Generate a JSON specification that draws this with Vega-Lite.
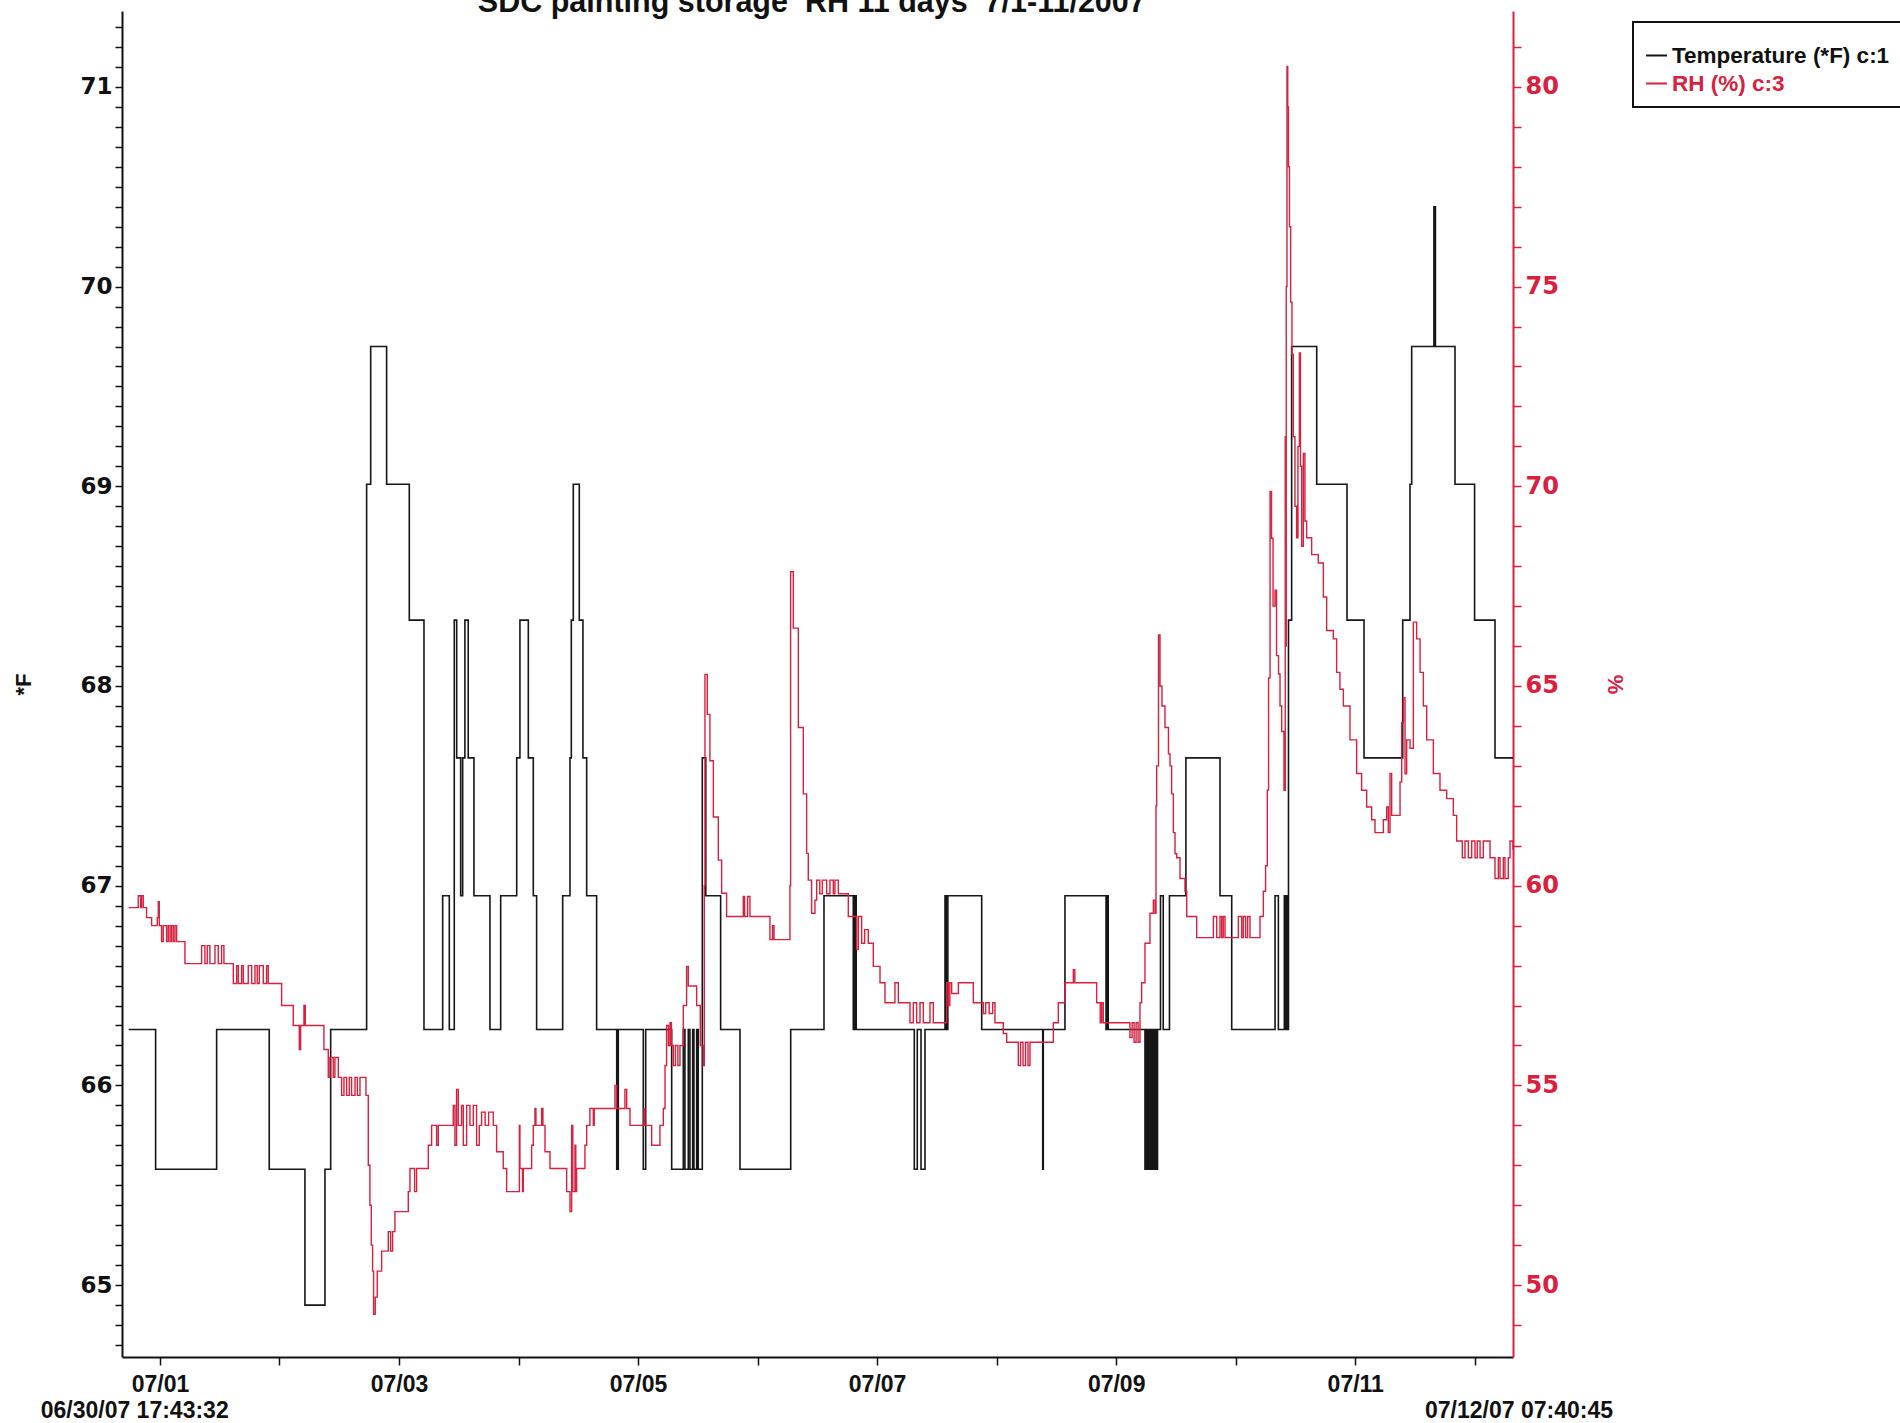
{
  "$schema": "https://vega.github.io/schema/vega-lite/v6.json",
  "autosize": {"type": "none"},
  "width": 1391,
  "height": 1346,
  "padding": {"left": 122, "top": 11, "right": 387, "bottom": 66},
  "background": "white",
  "config": {
    "view": {"stroke": null},
    "font": "Liberation Sans"
  },
  "datasets": {
    "temp": [
      {"t": "2007-06-30T17:43:32", "v": 66.28},
      {"t": "2007-06-30T23:08", "v": 65.58},
      {"t": "2007-07-01T11:23", "v": 66.28},
      {"t": "2007-07-01T21:57", "v": 65.58},
      {"t": "2007-07-02T05:07", "v": 64.90},
      {"t": "2007-07-02T09:08", "v": 65.58},
      {"t": "2007-07-02T10:17", "v": 66.28},
      {"t": "2007-07-02T17:30", "v": 69.01},
      {"t": "2007-07-02T18:19", "v": 69.70},
      {"t": "2007-07-02T21:31", "v": 69.01},
      {"t": "2007-07-03T02:04", "v": 68.33},
      {"t": "2007-07-03T05:01", "v": 66.28},
      {"t": "2007-07-03T08:46", "v": 66.95},
      {"t": "2007-07-03T10:06", "v": 66.28},
      {"t": "2007-07-03T11:06", "v": 68.33},
      {"t": "2007-07-03T11:35", "v": 67.64},
      {"t": "2007-07-03T12:23", "v": 66.95},
      {"t": "2007-07-03T12:47", "v": 67.64},
      {"t": "2007-07-03T13:14", "v": 68.33},
      {"t": "2007-07-03T13:54", "v": 67.64},
      {"t": "2007-07-03T15:03", "v": 66.95},
      {"t": "2007-07-03T18:16", "v": 66.28},
      {"t": "2007-07-03T20:25", "v": 66.95},
      {"t": "2007-07-03T23:38", "v": 67.64},
      {"t": "2007-07-04T00:17", "v": 68.33},
      {"t": "2007-07-04T01:58", "v": 67.64},
      {"t": "2007-07-04T02:58", "v": 66.95},
      {"t": "2007-07-04T03:38", "v": 66.28},
      {"t": "2007-07-04T08:52", "v": 66.95},
      {"t": "2007-07-04T10:20", "v": 67.64},
      {"t": "2007-07-04T10:36", "v": 68.33},
      {"t": "2007-07-04T11:00", "v": 69.01},
      {"t": "2007-07-04T12:12", "v": 68.33},
      {"t": "2007-07-04T12:56", "v": 67.64},
      {"t": "2007-07-04T13:41", "v": 66.95},
      {"t": "2007-07-04T15:41", "v": 66.28},
      {"t": "2007-07-04T19:43", "v": 65.58},
      {"t": "2007-07-04T20:02", "v": 66.28},
      {"t": "2007-07-05T01:03", "v": 65.58},
      {"t": "2007-07-05T01:32", "v": 66.28},
      {"t": "2007-07-05T06:45", "v": 65.58},
      {"t": "2007-07-05T09:05", "v": 66.28},
      {"t": "2007-07-05T09:25", "v": 65.58},
      {"t": "2007-07-05T10:05", "v": 66.28},
      {"t": "2007-07-05T10:25", "v": 65.58},
      {"t": "2007-07-05T10:58", "v": 66.28},
      {"t": "2007-07-05T11:13", "v": 65.58},
      {"t": "2007-07-05T11:46", "v": 66.28},
      {"t": "2007-07-05T12:05", "v": 65.58},
      {"t": "2007-07-05T12:54", "v": 67.64},
      {"t": "2007-07-05T13:36", "v": 66.95},
      {"t": "2007-07-05T16:35", "v": 66.28},
      {"t": "2007-07-05T20:28", "v": 65.58},
      {"t": "2007-07-06T06:39", "v": 66.28},
      {"t": "2007-07-06T13:20", "v": 66.95},
      {"t": "2007-07-06T19:13", "v": 66.28},
      {"t": "2007-07-06T19:30", "v": 66.95},
      {"t": "2007-07-06T19:48", "v": 66.28},
      {"t": "2007-07-07T07:28", "v": 65.58},
      {"t": "2007-07-07T08:04", "v": 66.28},
      {"t": "2007-07-07T08:49", "v": 65.58},
      {"t": "2007-07-07T09:37", "v": 66.28},
      {"t": "2007-07-07T13:38", "v": 66.95},
      {"t": "2007-07-07T13:54", "v": 66.28},
      {"t": "2007-07-07T14:12", "v": 66.95},
      {"t": "2007-07-07T21:00", "v": 66.28},
      {"t": "2007-07-08T09:15", "v": 65.58},
      {"t": "2007-07-08T09:22", "v": 66.28},
      {"t": "2007-07-08T13:43", "v": 66.95},
      {"t": "2007-07-08T21:58", "v": 66.28},
      {"t": "2007-07-08T22:12", "v": 66.95},
      {"t": "2007-07-08T22:24", "v": 66.28},
      {"t": "2007-07-09T05:47", "v": 65.58},
      {"t": "2007-07-09T05:57", "v": 66.28},
      {"t": "2007-07-09T06:06", "v": 65.58},
      {"t": "2007-07-09T06:15", "v": 66.28},
      {"t": "2007-07-09T06:24", "v": 65.58},
      {"t": "2007-07-09T06:33", "v": 66.28},
      {"t": "2007-07-09T06:42", "v": 65.58},
      {"t": "2007-07-09T06:51", "v": 66.28},
      {"t": "2007-07-09T07:00", "v": 65.58},
      {"t": "2007-07-09T07:09", "v": 66.28},
      {"t": "2007-07-09T07:18", "v": 65.58},
      {"t": "2007-07-09T07:27", "v": 66.28},
      {"t": "2007-07-09T07:36", "v": 65.58},
      {"t": "2007-07-09T07:45", "v": 66.28},
      {"t": "2007-07-09T07:54", "v": 65.58},
      {"t": "2007-07-09T08:03", "v": 66.28},
      {"t": "2007-07-09T08:09", "v": 65.58},
      {"t": "2007-07-09T08:18", "v": 66.28},
      {"t": "2007-07-09T08:54", "v": 66.95},
      {"t": "2007-07-09T09:27", "v": 66.28},
      {"t": "2007-07-09T10:42", "v": 66.95},
      {"t": "2007-07-09T14:00", "v": 67.64},
      {"t": "2007-07-09T20:51", "v": 66.95},
      {"t": "2007-07-09T23:12", "v": 66.28},
      {"t": "2007-07-10T07:54", "v": 66.95},
      {"t": "2007-07-10T08:34", "v": 66.28},
      {"t": "2007-07-10T09:46", "v": 66.95},
      {"t": "2007-07-10T10:00", "v": 66.28},
      {"t": "2007-07-10T10:12", "v": 66.95},
      {"t": "2007-07-10T10:22", "v": 66.28},
      {"t": "2007-07-10T10:36", "v": 68.33},
      {"t": "2007-07-10T11:14", "v": 69.70},
      {"t": "2007-07-10T16:16", "v": 69.01},
      {"t": "2007-07-10T22:21", "v": 68.33},
      {"t": "2007-07-11T01:46", "v": 67.64},
      {"t": "2007-07-11T09:32", "v": 68.33},
      {"t": "2007-07-11T11:00", "v": 69.01},
      {"t": "2007-07-11T11:20", "v": 69.70},
      {"t": "2007-07-11T15:48", "v": 70.40},
      {"t": "2007-07-11T16:06", "v": 69.70},
      {"t": "2007-07-11T20:02", "v": 69.01},
      {"t": "2007-07-11T23:58", "v": 68.33},
      {"t": "2007-07-12T04:04", "v": 67.64},
      {"t": "2007-07-12T07:40:45", "v": 67.64}
    ],
    "rh": [
      {"t": "2007-06-30T17:43:32", "v": 59.45},
      {"t": "2007-06-30T19:39", "v": 59.75},
      {"t": "2007-06-30T20:07", "v": 59.45},
      {"t": "2007-06-30T20:19", "v": 59.75},
      {"t": "2007-06-30T20:39", "v": 59.45},
      {"t": "2007-06-30T21:19", "v": 59.2},
      {"t": "2007-06-30T22:20", "v": 59.0},
      {"t": "2007-06-30T23:28", "v": 59.2},
      {"t": "2007-06-30T23:40", "v": 59.6},
      {"t": "2007-06-30T23:52", "v": 59.0},
      {"t": "2007-07-01T00:20", "v": 58.6},
      {"t": "2007-07-01T00:40", "v": 59.0},
      {"t": "2007-07-01T01:20", "v": 58.6},
      {"t": "2007-07-01T01:40", "v": 59.0},
      {"t": "2007-07-01T02:01", "v": 58.6},
      {"t": "2007-07-01T02:20", "v": 59.0},
      {"t": "2007-07-01T02:41", "v": 58.6},
      {"t": "2007-07-01T03:01", "v": 59.0},
      {"t": "2007-07-01T03:21", "v": 58.6},
      {"t": "2007-07-01T05:01", "v": 58.05},
      {"t": "2007-07-01T08:22", "v": 58.5},
      {"t": "2007-07-01T09:02", "v": 58.05},
      {"t": "2007-07-01T09:30", "v": 58.5},
      {"t": "2007-07-01T10:02", "v": 58.05},
      {"t": "2007-07-01T11:03", "v": 58.5},
      {"t": "2007-07-01T11:43", "v": 58.05},
      {"t": "2007-07-01T12:23", "v": 58.5},
      {"t": "2007-07-01T12:51", "v": 58.05},
      {"t": "2007-07-01T14:44", "v": 57.55},
      {"t": "2007-07-01T15:24", "v": 58.0},
      {"t": "2007-07-01T15:44", "v": 57.55},
      {"t": "2007-07-01T16:24", "v": 58.0},
      {"t": "2007-07-01T16:44", "v": 57.55},
      {"t": "2007-07-01T17:44", "v": 58.0},
      {"t": "2007-07-01T18:25", "v": 57.55},
      {"t": "2007-07-01T19:05", "v": 58.0},
      {"t": "2007-07-01T19:32", "v": 57.55},
      {"t": "2007-07-01T19:57", "v": 58.0},
      {"t": "2007-07-01T20:45", "v": 57.55},
      {"t": "2007-07-01T21:25", "v": 58.0},
      {"t": "2007-07-01T21:45", "v": 57.55},
      {"t": "2007-07-02T00:26", "v": 57.0},
      {"t": "2007-07-02T02:46", "v": 56.5},
      {"t": "2007-07-02T03:59", "v": 55.9},
      {"t": "2007-07-02T04:15", "v": 56.5},
      {"t": "2007-07-02T04:55", "v": 57.0},
      {"t": "2007-07-02T05:11", "v": 56.5},
      {"t": "2007-07-02T08:56", "v": 55.9},
      {"t": "2007-07-02T09:48", "v": 55.2},
      {"t": "2007-07-02T10:08", "v": 55.7},
      {"t": "2007-07-02T10:48", "v": 55.2},
      {"t": "2007-07-02T11:08", "v": 55.7},
      {"t": "2007-07-02T11:49", "v": 55.2},
      {"t": "2007-07-02T12:29", "v": 54.75},
      {"t": "2007-07-02T12:57", "v": 55.2},
      {"t": "2007-07-02T13:29", "v": 54.75},
      {"t": "2007-07-02T14:01", "v": 55.2},
      {"t": "2007-07-02T14:29", "v": 54.75},
      {"t": "2007-07-02T15:10", "v": 55.2},
      {"t": "2007-07-02T15:38", "v": 54.75},
      {"t": "2007-07-02T16:10", "v": 55.2},
      {"t": "2007-07-02T17:22", "v": 54.75},
      {"t": "2007-07-02T17:50", "v": 53.0},
      {"t": "2007-07-02T18:10", "v": 52.0},
      {"t": "2007-07-02T18:26", "v": 51.0},
      {"t": "2007-07-02T18:42", "v": 50.35},
      {"t": "2007-07-02T18:54", "v": 49.27},
      {"t": "2007-07-02T19:14", "v": 49.7},
      {"t": "2007-07-02T19:38", "v": 50.35},
      {"t": "2007-07-02T20:31", "v": 50.85},
      {"t": "2007-07-02T21:51", "v": 51.34},
      {"t": "2007-07-02T22:19", "v": 50.85},
      {"t": "2007-07-02T22:43", "v": 51.34},
      {"t": "2007-07-02T23:11", "v": 51.84},
      {"t": "2007-07-03T01:52", "v": 52.34},
      {"t": "2007-07-03T02:12", "v": 52.92},
      {"t": "2007-07-03T03:08", "v": 52.34},
      {"t": "2007-07-03T03:32", "v": 52.92},
      {"t": "2007-07-03T05:53", "v": 53.5},
      {"t": "2007-07-03T06:33", "v": 54.0},
      {"t": "2007-07-03T07:33", "v": 53.5},
      {"t": "2007-07-03T07:53", "v": 54.0},
      {"t": "2007-07-03T10:54", "v": 54.5},
      {"t": "2007-07-03T11:14", "v": 53.5},
      {"t": "2007-07-03T11:34", "v": 54.9},
      {"t": "2007-07-03T11:54", "v": 54.0},
      {"t": "2007-07-03T12:34", "v": 54.5},
      {"t": "2007-07-03T12:55", "v": 53.5},
      {"t": "2007-07-03T13:35", "v": 54.5},
      {"t": "2007-07-03T14:15", "v": 54.0},
      {"t": "2007-07-03T14:55", "v": 54.5},
      {"t": "2007-07-03T15:35", "v": 53.5},
      {"t": "2007-07-03T16:07", "v": 54.0},
      {"t": "2007-07-03T16:35", "v": 54.33},
      {"t": "2007-07-03T17:18", "v": 54.0},
      {"t": "2007-07-03T18:00", "v": 54.33},
      {"t": "2007-07-03T18:56", "v": 54.0},
      {"t": "2007-07-03T19:36", "v": 53.34},
      {"t": "2007-07-03T20:56", "v": 52.92},
      {"t": "2007-07-03T21:37", "v": 52.34},
      {"t": "2007-07-04T00:10", "v": 54.0},
      {"t": "2007-07-04T00:17", "v": 52.92},
      {"t": "2007-07-04T00:48", "v": 52.34},
      {"t": "2007-07-04T00:58", "v": 52.92},
      {"t": "2007-07-04T02:38", "v": 53.5},
      {"t": "2007-07-04T02:58", "v": 54.0},
      {"t": "2007-07-04T03:18", "v": 54.42},
      {"t": "2007-07-04T03:30", "v": 54.0},
      {"t": "2007-07-04T04:38", "v": 54.42},
      {"t": "2007-07-04T04:54", "v": 54.0},
      {"t": "2007-07-04T05:19", "v": 53.34},
      {"t": "2007-07-04T06:19", "v": 52.92},
      {"t": "2007-07-04T09:40", "v": 52.34},
      {"t": "2007-07-04T10:20", "v": 51.84},
      {"t": "2007-07-04T10:40", "v": 54.0},
      {"t": "2007-07-04T10:54", "v": 52.34},
      {"t": "2007-07-04T11:20", "v": 53.5},
      {"t": "2007-07-04T11:30", "v": 52.34},
      {"t": "2007-07-04T11:40", "v": 52.92},
      {"t": "2007-07-04T13:20", "v": 53.5},
      {"t": "2007-07-04T13:41", "v": 54.0},
      {"t": "2007-07-04T14:20", "v": 54.42},
      {"t": "2007-07-04T15:01", "v": 54.0},
      {"t": "2007-07-04T15:12", "v": 54.42},
      {"t": "2007-07-04T19:22", "v": 55.0},
      {"t": "2007-07-04T19:42", "v": 54.42},
      {"t": "2007-07-04T21:22", "v": 54.9},
      {"t": "2007-07-04T21:43", "v": 54.42},
      {"t": "2007-07-04T22:23", "v": 54.0},
      {"t": "2007-07-05T01:11", "v": 54.42},
      {"t": "2007-07-05T01:23", "v": 54.0},
      {"t": "2007-07-05T02:44", "v": 53.5},
      {"t": "2007-07-05T04:24", "v": 54.0},
      {"t": "2007-07-05T05:04", "v": 54.42},
      {"t": "2007-07-05T05:25", "v": 55.5},
      {"t": "2007-07-05T05:44", "v": 56.5},
      {"t": "2007-07-05T06:06", "v": 56.0},
      {"t": "2007-07-05T06:25", "v": 56.57},
      {"t": "2007-07-05T06:42", "v": 56.0},
      {"t": "2007-07-05T07:05", "v": 55.5},
      {"t": "2007-07-05T07:30", "v": 56.0},
      {"t": "2007-07-05T08:00", "v": 55.5},
      {"t": "2007-07-05T08:25", "v": 56.0},
      {"t": "2007-07-05T09:05", "v": 57.0},
      {"t": "2007-07-05T09:45", "v": 57.98},
      {"t": "2007-07-05T10:05", "v": 57.49},
      {"t": "2007-07-05T11:46", "v": 57.0},
      {"t": "2007-07-05T12:30", "v": 56.0},
      {"t": "2007-07-05T13:06", "v": 55.5},
      {"t": "2007-07-05T13:18", "v": 60.0},
      {"t": "2007-07-05T13:26", "v": 65.29},
      {"t": "2007-07-05T13:54", "v": 64.29},
      {"t": "2007-07-05T14:26", "v": 63.13},
      {"t": "2007-07-05T15:07", "v": 61.72},
      {"t": "2007-07-05T16:07", "v": 60.64},
      {"t": "2007-07-05T16:47", "v": 59.81},
      {"t": "2007-07-05T17:47", "v": 59.23},
      {"t": "2007-07-05T21:08", "v": 59.73},
      {"t": "2007-07-05T21:24", "v": 59.23},
      {"t": "2007-07-05T22:00", "v": 59.73},
      {"t": "2007-07-05T22:28", "v": 59.23},
      {"t": "2007-07-06T02:29", "v": 58.65},
      {"t": "2007-07-06T03:00", "v": 59.0},
      {"t": "2007-07-06T03:18", "v": 58.65},
      {"t": "2007-07-06T06:30", "v": 60.0},
      {"t": "2007-07-06T06:38", "v": 67.86},
      {"t": "2007-07-06T07:10", "v": 66.45},
      {"t": "2007-07-06T08:11", "v": 63.96},
      {"t": "2007-07-06T09:11", "v": 62.3},
      {"t": "2007-07-06T09:51", "v": 60.81},
      {"t": "2007-07-06T10:11", "v": 60.14},
      {"t": "2007-07-06T10:51", "v": 59.31},
      {"t": "2007-07-06T11:31", "v": 59.64},
      {"t": "2007-07-06T11:52", "v": 60.14},
      {"t": "2007-07-06T12:30", "v": 59.8},
      {"t": "2007-07-06T13:00", "v": 60.14},
      {"t": "2007-07-06T13:52", "v": 59.8},
      {"t": "2007-07-06T14:32", "v": 60.14},
      {"t": "2007-07-06T15:12", "v": 59.8},
      {"t": "2007-07-06T15:32", "v": 60.14},
      {"t": "2007-07-06T16:13", "v": 59.8},
      {"t": "2007-07-06T18:13", "v": 59.23},
      {"t": "2007-07-06T19:53", "v": 58.4},
      {"t": "2007-07-06T20:14", "v": 59.23},
      {"t": "2007-07-06T20:54", "v": 58.56},
      {"t": "2007-07-06T21:30", "v": 58.9},
      {"t": "2007-07-06T22:14", "v": 58.56},
      {"t": "2007-07-06T23:14", "v": 57.98},
      {"t": "2007-07-07T00:35", "v": 57.57},
      {"t": "2007-07-07T01:35", "v": 57.07},
      {"t": "2007-07-07T03:35", "v": 57.57},
      {"t": "2007-07-07T04:16", "v": 57.07},
      {"t": "2007-07-07T06:36", "v": 56.57},
      {"t": "2007-07-07T07:16", "v": 57.07},
      {"t": "2007-07-07T07:56", "v": 56.57},
      {"t": "2007-07-07T08:37", "v": 57.07},
      {"t": "2007-07-07T09:17", "v": 56.57},
      {"t": "2007-07-07T10:37", "v": 57.07},
      {"t": "2007-07-07T11:17", "v": 56.57},
      {"t": "2007-07-07T13:58", "v": 57.57},
      {"t": "2007-07-07T14:18", "v": 57.0},
      {"t": "2007-07-07T14:36", "v": 57.57},
      {"t": "2007-07-07T14:58", "v": 57.3},
      {"t": "2007-07-07T16:19", "v": 57.57},
      {"t": "2007-07-07T19:19", "v": 57.07},
      {"t": "2007-07-07T21:20", "v": 56.8},
      {"t": "2007-07-07T21:48", "v": 57.07},
      {"t": "2007-07-07T22:30", "v": 56.8},
      {"t": "2007-07-07T23:12", "v": 57.07},
      {"t": "2007-07-07T23:40", "v": 56.57},
      {"t": "2007-07-08T01:20", "v": 56.3},
      {"t": "2007-07-08T02:01", "v": 56.08},
      {"t": "2007-07-08T04:21", "v": 55.5},
      {"t": "2007-07-08T04:48", "v": 56.08},
      {"t": "2007-07-08T05:18", "v": 55.5},
      {"t": "2007-07-08T05:48", "v": 56.08},
      {"t": "2007-07-08T06:18", "v": 55.5},
      {"t": "2007-07-08T06:42", "v": 56.08},
      {"t": "2007-07-08T11:23", "v": 56.57},
      {"t": "2007-07-08T12:23", "v": 57.07},
      {"t": "2007-07-08T13:43", "v": 57.57},
      {"t": "2007-07-08T15:24", "v": 57.9},
      {"t": "2007-07-08T15:42", "v": 57.57},
      {"t": "2007-07-08T20:05", "v": 57.07},
      {"t": "2007-07-08T20:48", "v": 56.57},
      {"t": "2007-07-08T21:06", "v": 57.07},
      {"t": "2007-07-08T21:25", "v": 56.57},
      {"t": "2007-07-09T02:46", "v": 56.2},
      {"t": "2007-07-09T03:12", "v": 56.57},
      {"t": "2007-07-09T03:36", "v": 56.08},
      {"t": "2007-07-09T04:00", "v": 56.57},
      {"t": "2007-07-09T04:24", "v": 56.08},
      {"t": "2007-07-09T04:47", "v": 57.07},
      {"t": "2007-07-09T05:07", "v": 57.57},
      {"t": "2007-07-09T05:47", "v": 58.56},
      {"t": "2007-07-09T06:47", "v": 59.31},
      {"t": "2007-07-09T07:28", "v": 59.64},
      {"t": "2007-07-09T07:48", "v": 59.31},
      {"t": "2007-07-09T08:00", "v": 62.0},
      {"t": "2007-07-09T08:08", "v": 63.0},
      {"t": "2007-07-09T08:30", "v": 66.28},
      {"t": "2007-07-09T08:48", "v": 65.0},
      {"t": "2007-07-09T09:12", "v": 64.5},
      {"t": "2007-07-09T09:48", "v": 63.96},
      {"t": "2007-07-09T10:30", "v": 63.3},
      {"t": "2007-07-09T10:49", "v": 63.0},
      {"t": "2007-07-09T11:08", "v": 62.3},
      {"t": "2007-07-09T11:29", "v": 61.33},
      {"t": "2007-07-09T11:49", "v": 60.8},
      {"t": "2007-07-09T12:09", "v": 60.7},
      {"t": "2007-07-09T12:49", "v": 60.18},
      {"t": "2007-07-09T13:49", "v": 59.86},
      {"t": "2007-07-09T14:10", "v": 59.23},
      {"t": "2007-07-09T16:10", "v": 58.7},
      {"t": "2007-07-09T19:31", "v": 59.23},
      {"t": "2007-07-09T20:11", "v": 58.7},
      {"t": "2007-07-09T20:51", "v": 59.23},
      {"t": "2007-07-09T21:11", "v": 58.7},
      {"t": "2007-07-09T21:30", "v": 59.23},
      {"t": "2007-07-09T21:51", "v": 58.7},
      {"t": "2007-07-10T00:32", "v": 59.23},
      {"t": "2007-07-10T01:12", "v": 58.7},
      {"t": "2007-07-10T01:32", "v": 59.23},
      {"t": "2007-07-10T02:00", "v": 58.7},
      {"t": "2007-07-10T02:24", "v": 59.23},
      {"t": "2007-07-10T02:52", "v": 58.7},
      {"t": "2007-07-10T04:53", "v": 59.23},
      {"t": "2007-07-10T05:33", "v": 59.86},
      {"t": "2007-07-10T06:00", "v": 60.5},
      {"t": "2007-07-10T06:21", "v": 62.4},
      {"t": "2007-07-10T06:36", "v": 65.2},
      {"t": "2007-07-10T06:54", "v": 69.87},
      {"t": "2007-07-10T07:12", "v": 68.7},
      {"t": "2007-07-10T07:30", "v": 67.0},
      {"t": "2007-07-10T07:54", "v": 67.4},
      {"t": "2007-07-10T08:12", "v": 65.76},
      {"t": "2007-07-10T08:36", "v": 65.3},
      {"t": "2007-07-10T08:54", "v": 64.5},
      {"t": "2007-07-10T09:14", "v": 63.86},
      {"t": "2007-07-10T09:42", "v": 62.39},
      {"t": "2007-07-10T09:57", "v": 71.24},
      {"t": "2007-07-10T10:03", "v": 66.0},
      {"t": "2007-07-10T10:09", "v": 75.0},
      {"t": "2007-07-10T10:18", "v": 80.51},
      {"t": "2007-07-10T10:27", "v": 79.5},
      {"t": "2007-07-10T10:36", "v": 78.0},
      {"t": "2007-07-10T10:48", "v": 76.5},
      {"t": "2007-07-10T11:02", "v": 74.61},
      {"t": "2007-07-10T11:18", "v": 73.3},
      {"t": "2007-07-10T11:34", "v": 71.24},
      {"t": "2007-07-10T11:54", "v": 69.5},
      {"t": "2007-07-10T12:14", "v": 68.71},
      {"t": "2007-07-10T12:30", "v": 71.0},
      {"t": "2007-07-10T12:47", "v": 73.34},
      {"t": "2007-07-10T13:00", "v": 70.5},
      {"t": "2007-07-10T13:15", "v": 68.5},
      {"t": "2007-07-10T13:35", "v": 70.82},
      {"t": "2007-07-10T13:54", "v": 69.13},
      {"t": "2007-07-10T14:15", "v": 68.71},
      {"t": "2007-07-10T15:15", "v": 68.29},
      {"t": "2007-07-10T16:35", "v": 68.08},
      {"t": "2007-07-10T17:36", "v": 67.23},
      {"t": "2007-07-10T18:16", "v": 66.39},
      {"t": "2007-07-10T19:36", "v": 66.18},
      {"t": "2007-07-10T20:16", "v": 65.34},
      {"t": "2007-07-10T20:56", "v": 64.92},
      {"t": "2007-07-10T21:37", "v": 64.5},
      {"t": "2007-07-10T22:57", "v": 63.65},
      {"t": "2007-07-11T00:17", "v": 62.81},
      {"t": "2007-07-11T01:17", "v": 62.39},
      {"t": "2007-07-11T02:18", "v": 61.97},
      {"t": "2007-07-11T03:18", "v": 61.65},
      {"t": "2007-07-11T03:58", "v": 61.33},
      {"t": "2007-07-11T05:39", "v": 61.65},
      {"t": "2007-07-11T06:19", "v": 61.97},
      {"t": "2007-07-11T06:39", "v": 61.33},
      {"t": "2007-07-11T06:59", "v": 62.81},
      {"t": "2007-07-11T07:19", "v": 61.76},
      {"t": "2007-07-11T09:00", "v": 62.6},
      {"t": "2007-07-11T09:20", "v": 64.08},
      {"t": "2007-07-11T09:40", "v": 64.71},
      {"t": "2007-07-11T10:00", "v": 62.8},
      {"t": "2007-07-11T10:20", "v": 63.65},
      {"t": "2007-07-11T11:00", "v": 63.44},
      {"t": "2007-07-11T11:40", "v": 66.6},
      {"t": "2007-07-11T12:20", "v": 66.18},
      {"t": "2007-07-11T13:01", "v": 65.34},
      {"t": "2007-07-11T13:41", "v": 64.5},
      {"t": "2007-07-11T14:21", "v": 63.65},
      {"t": "2007-07-11T15:41", "v": 62.81},
      {"t": "2007-07-11T17:01", "v": 62.39},
      {"t": "2007-07-11T18:22", "v": 62.18},
      {"t": "2007-07-11T19:42", "v": 61.76},
      {"t": "2007-07-11T20:22", "v": 61.12},
      {"t": "2007-07-11T21:30", "v": 60.7},
      {"t": "2007-07-11T22:02", "v": 61.12},
      {"t": "2007-07-11T22:43", "v": 60.7},
      {"t": "2007-07-11T23:23", "v": 61.12},
      {"t": "2007-07-12T00:03", "v": 60.7},
      {"t": "2007-07-12T00:30", "v": 61.12},
      {"t": "2007-07-12T01:04", "v": 60.7},
      {"t": "2007-07-12T01:43", "v": 61.12},
      {"t": "2007-07-12T03:04", "v": 60.7},
      {"t": "2007-07-12T04:04", "v": 60.18},
      {"t": "2007-07-12T04:44", "v": 60.7},
      {"t": "2007-07-12T05:04", "v": 60.18},
      {"t": "2007-07-12T05:44", "v": 60.7},
      {"t": "2007-07-12T06:04", "v": 60.18},
      {"t": "2007-07-12T06:44", "v": 60.7},
      {"t": "2007-07-12T07:05", "v": 61.12},
      {"t": "2007-07-12T07:40:45", "v": 60.9}
    ],
    "stamps": [
      {"t": "2007-06-30T17:43:32", "label": "06/30/07 17:43:32"},
      {"t": "2007-07-12T07:40:45", "label": "07/12/07 07:40:45"}
    ],
    "heading": [
      {"t": "2007-07-06T10:53", "label": "SDC painting storage\u00a0\u00a0RH 11 days\u00a0\u00a07/1-11/2007"}
    ]
  },
  "encoding": {
    "x": {
      "field": "t", "type": "temporal", "title": null,
      "scale": {"domain": [
        {"year": 2007, "month": 6, "date": 30, "hours": 16, "minutes": 23},
        {"year": 2007, "month": 7, "date": 12, "hours": 7, "minutes": 40, "seconds": 45}
      ]},
      "axis": {
        "values": [
          {"year": 2007, "month": 7, "date": 1}, {"year": 2007, "month": 7, "date": 2},
          {"year": 2007, "month": 7, "date": 3}, {"year": 2007, "month": 7, "date": 4},
          {"year": 2007, "month": 7, "date": 5}, {"year": 2007, "month": 7, "date": 6},
          {"year": 2007, "month": 7, "date": 7}, {"year": 2007, "month": 7, "date": 8},
          {"year": 2007, "month": 7, "date": 9}, {"year": 2007, "month": 7, "date": 10},
          {"year": 2007, "month": 7, "date": 11}, {"year": 2007, "month": 7, "date": 12}
        ],
        "tickCount": 1000,
        "labelExpr": "date(datum.value) % 2 === 1 ? timeFormat(datum.value, '%m/%d') : ''",
        "labelOverlap": false, "labelFlush": false,
        "grid": false, "title": null,
        "domainColor": "#111111", "domainWidth": 2,
        "tickColor": "#111111", "tickWidth": 1.5, "tickSize": 8,
        "labelFont": "Liberation Sans", "labelFontSize": 23, "labelFontWeight": "bold",
        "labelColor": "#111111", "labelPadding": 8
      }
    }
  },
  "layer": [
    {
      "layer": [
        {
          "data": {"name": "temp"},
          "mark": {"type": "line", "interpolate": "step-after", "strokeWidth": 1.6},
          "encoding": {
            "y": {
              "field": "v", "type": "quantitative",
              "scale": {"domain": [64.64, 71.38], "nice": false, "zero": false},
              "axis": {
                "orient": "left", "title": "*F", "tickCount": 1000,
                "values": [64.7,64.8,64.9,65,65.1,65.2,65.3,65.4,65.5,65.6,65.7,65.8,65.9,66,66.1,66.2,66.3,66.4,66.5,66.6,66.7,66.8,66.9,67,67.1,67.2,67.3,67.4,67.5,67.6,67.7,67.8,67.9,68,68.1,68.2,68.3,68.4,68.5,68.6,68.7,68.8,68.9,69,69.1,69.2,69.3,69.4,69.5,69.6,69.7,69.8,69.9,70,70.1,70.2,70.3,70.4,70.5,70.6,70.7,70.8,70.9,71,71.1,71.2,71.3],
                "labelExpr": "abs(datum.value - round(datum.value)) < 0.01 ? format(datum.value, 'd') : ''",
                "labelOverlap": false, "grid": false,
                "domainColor": "#111111", "domainWidth": 2,
                "tickColor": "#111111", "tickWidth": 1.5, "tickSize": 7,
                "labelFont": "DejaVu Sans", "labelFontSize": 23, "labelFontWeight": "bold",
                "labelColor": "#111111", "labelPadding": 3,
                "titleFont": "Liberation Sans", "titleFontSize": 22, "titleFontWeight": "bold",
                "titleColor": "#111111", "titlePadding": 44
              }
            },
            "color": {
              "datum": "Temperature (*F) c:1", "type": "nominal",
              "scale": {"domain": ["Temperature (*F) c:1", "RH (%) c:3"], "range": ["#161616", "#d8203f"]},
              "legend": {
                "orient": "none", "legendX": 1511, "legendY": 11,
                "title": " ", "titleFontSize": 10, "titlePadding": 0,
                "symbolType": "stroke", "symbolSize": 440, "symbolStrokeWidth": 2,
                "labelFont": "Liberation Sans", "labelFontSize": 22.5, "labelFontWeight": "bold",
                "labelLimit": 400, "labelOffset": 4, "rowPadding": 5,
                "padding": 12, "strokeColor": "#111111",
                "encode": {
                  "legend": {"update": {"strokeWidth": {"value": 2}}},
                  "labels": {"update": {"fill": {"signal": "datum.label === 'RH (%) c:3' ? '#d8203f' : '#111111'"}}}
                }
              }
            }
          }
        },
        {
          "data": {"name": "stamps"},
          "mark": {"type": "text", "font": "Liberation Sans", "fontSize": 23, "fontWeight": "bold", "color": "#111111", "align": "center", "baseline": "alphabetic", "dy": 61, "dx": 6},
          "encoding": {
            "y": {"datum": 64.64, "type": "quantitative"},
            "text": {"field": "label", "type": "nominal"}
          }
        },
        {
          "data": {"name": "heading"},
          "mark": {"type": "text", "font": "Liberation Sans", "fontSize": 30.5, "fontWeight": "bold", "color": "#111111", "align": "center", "baseline": "alphabetic", "dy": 1},
          "encoding": {
            "y": {"datum": 71.38, "type": "quantitative"},
            "text": {"field": "label", "type": "nominal"}
          }
        }
      ]
    },
    {
      "data": {"name": "rh"},
      "mark": {"type": "line", "interpolate": "step-after", "strokeWidth": 1.4},
      "encoding": {
        "y": {
          "field": "v", "type": "quantitative",
          "scale": {"domain": [48.2, 81.9], "nice": false, "zero": false},
          "axis": {
            "orient": "right", "title": "%", "tickCount": 1000,
            "values": [49,50,51,52,53,54,55,56,57,58,59,60,61,62,63,64,65,66,67,68,69,70,71,72,73,74,75,76,77,78,79,80,81],
            "labelExpr": "datum.value % 5 === 0 ? format(datum.value, 'd') : ''",
            "labelOverlap": false, "grid": false,
            "domainColor": "#d8203f", "domainWidth": 2,
            "tickColor": "#d8203f", "tickWidth": 1.5, "tickSize": 8,
            "labelFont": "DejaVu Sans", "labelFontSize": 24, "labelFontWeight": "bold",
            "labelColor": "#d8203f", "labelPadding": 4,
            "titleFont": "Liberation Sans", "titleFontSize": 22, "titleFontWeight": "bold",
            "titleColor": "#d8203f", "titlePadding": 44
          }
        },
        "color": {"datum": "RH (%) c:3", "type": "nominal"}
      }
    }
  ],
  "resolve": {"scale": {"y": "independent"}}
}
